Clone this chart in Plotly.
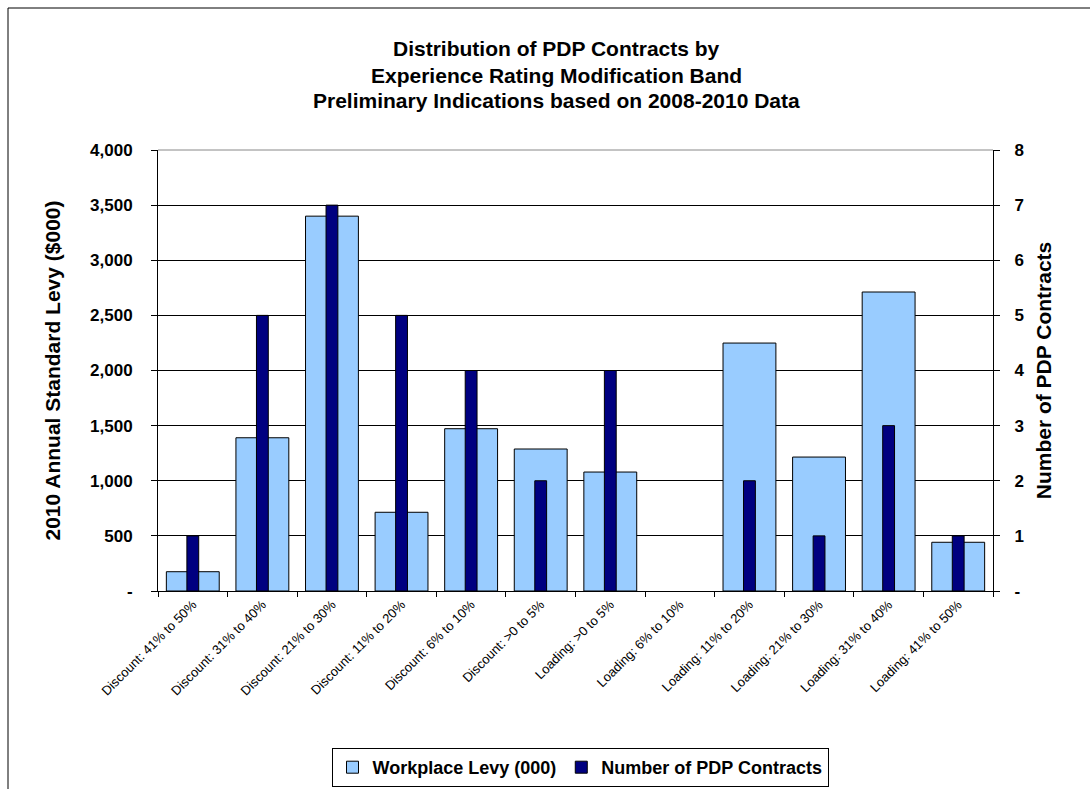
import plotly.graph_objects as go

categories = ["Discount: 41% to 50%", "Discount: 31% to 40%", "Discount: 21% to 30%",
              "Discount: 11% to 20%", "Discount: 6% to 10%", "Discount: >0 to 5%",
              "Loading: >0 to 5%", "Loading: 6% to 10%", "Loading: 11% to 20%",
              "Loading: 21% to 30%", "Loading: 31% to 40%", "Loading: 41% to 50%"]
levy = [175, 1390, 3400, 714, 1472, 1288, 1079, 0, 2249, 1215, 2712, 442]
contracts = [1, 5, 7, 5, 4, 2, 4, 0, 2, 1, 3, 1]
left_ticks = [0, 500, 1000, 1500, 2000, 2500, 3000, 3500, 4000]
left_labels = ["-", "500", "1,000", "1,500", "2,000", "2,500", "3,000", "3,500", "4,000"]
right_ticks = [0, 1, 2, 3, 4, 5, 6, 7, 8]
right_labels = ["-", "1", "2", "3", "4", "5", "6", "7", "8"]
title_lines = ["Distribution of PDP Contracts by",
               "Experience Rating Modification Band",
               "Preliminary Indications based on 2008-2010 Data"]

W, H = 1090, 789
L, R, T, B = 158, 993, 150, 591
pw, ph = R - L, B - T

def px(x):
    return (x - L) / pw

def py(y):
    return (B - y) / ph

FONT = "Liberation Sans, Arial, sans-serif"

fig = go.Figure()
fig.add_trace(go.Bar(x=categories, y=levy, name="Workplace Levy (000)",
                     marker=dict(color="#99ccff",
                                 line=dict(color="black", width=[0 if v == 0 else 1 for v in levy])),
                     width=0.76, yaxis="y"))
fig.add_trace(go.Bar(x=categories, y=contracts, name="Number of PDP Contracts",
                     marker=dict(color="#000080",
                                 line=dict(color="black", width=[0 if v == 0 else 1 for v in contracts])),
                     width=0.17, yaxis="y2"))

fig.update_layout(
    width=W, height=H,
    margin=dict(l=L, r=W - R, t=T, b=H - B, autoexpand=False),
    paper_bgcolor="white", plot_bgcolor="white",
    barmode="overlay",
    showlegend=True,
    font=dict(family=FONT, color="black"),
    xaxis=dict(type="category", tickangle=-45, tickfont=dict(size=13),
               showline=True, linecolor="black", linewidth=1, automargin=False,
               ticks="outside", ticklen=5, tickcolor="black", tickson="boundaries",
               showgrid=False, range=[-0.5, 11.5]),
    yaxis=dict(range=[0, 4000], tickvals=left_ticks, ticktext=left_labels,
               tickfont=dict(size=17, weight="bold"), automargin=False,
               showline=True, linecolor="black", linewidth=1,
               ticks="outside", ticklen=6, tickcolor="black",
               showgrid=True, gridcolor="black", gridwidth=1,
               zeroline=False, ticklabelstandoff=15,
               title=dict(text="2010 Annual Standard Levy ($000)",
                          font=dict(size=21, weight="bold"), standoff=23)),
    yaxis2=dict(range=[0, 8], tickvals=right_ticks, ticktext=right_labels,
                overlaying="y", side="right", automargin=False,
                tickfont=dict(size=17, weight="bold"),
                showline=True, linecolor="black", linewidth=1,
                ticks="outside", ticklen=6, tickcolor="black",
                showgrid=False, zeroline=False, ticklabelstandoff=11,
                title=dict(text="Number of PDP Contracts",
                           font=dict(size=21, weight="bold"), standoff=12)),
    legend=dict(orientation="h", x=px(580), xanchor="center", y=py(748), yanchor="top",
                bordercolor="black", borderwidth=1, bgcolor="white",
                font=dict(size=18, weight="bold"), itemwidth=30, traceorder="normal",
                tracegroupgap=0),
)

for i, (line, yc) in enumerate(zip(title_lines, [49, 75, 101])):
    fig.add_annotation(text=line, xref="paper", yref="paper", x=px(556), y=py(yc),
                       xanchor="center", yanchor="middle", showarrow=False,
                       font=dict(size=21, weight="bold", family=FONT))

# top plot border line (gray) and outer chart frame
fig.add_shape(type="line", xref="paper", yref="paper", x0=0, x1=1, y0=1, y1=1,
              line=dict(color="#888888", width=1))
fig.add_shape(type="rect", xref="paper", yref="paper",
              x0=px(8), x1=px(W + 20), y0=py(8), y1=py(H + 20),
              line=dict(color="black", width=1), layer="below")

fig.write_html("out.html")
